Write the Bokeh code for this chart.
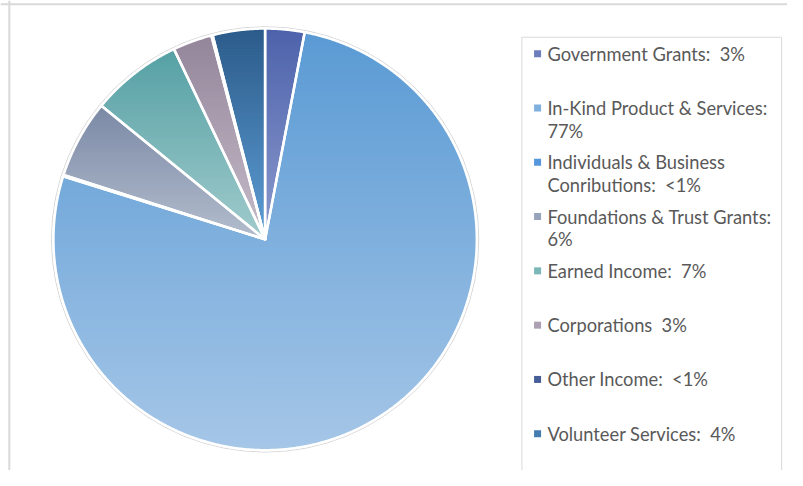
from bokeh.plotting import figure
from bokeh.models import Range1d, Span
from bokeh.embed import file_html
from bokeh.resources import INLINE
from bokeh.core.properties import value
import numpy as np

# ---- data ----
categories = ["Government Grants", "In-Kind Product & Services",
              "Individuals & Business Conributions", "Foundations & Trust Grants",
              "Earned Income", "Corporations", "Other Income", "Volunteer Services"]
shares = [3, 77, 0.1, 6, 7, 3, 0.1, 4]
labels = ["Government Grants:  3%",
          "In-Kind Product & Services:\n77%",
          "Individuals & Business\nConributions:  <1%",
          "Foundations & Trust Grants:\n6%",
          "Earned Income:  7%",
          "Corporations  3%",
          "Other Income:  <1%",
          "Volunteer Services:  4%"]
top_colors = ["#4D62AB", "#5A9AD4", "#3A84D6", "#7B89A5",
              "#55A0A4", "#93859A", "#2F4A86", "#2B5B8A"]
bottom_colors = ["#8C9ACD", "#A5C6E7", "#72A8E2", "#B3BDCD",
                 "#A1CBCC", "#C6BCC9", "#5B72A9", "#5E9ED5"]

# ---- layout (reference pixel space: 803 x 486, y measured from top) ----
W, H = 787, 470
REF_W, REF_H = 803, 486
cx, cy_top, rx, ry = 270, 247, 216, 218


def ys(y_screen):
    return REF_H - y_screen


cy = ys(cy_top)

p = figure(width=W, height=H, x_range=Range1d(0, REF_W), y_range=Range1d(0, REF_H),
           output_backend="svg", toolbar_location=None, min_border=0,
           x_axis_location=None, y_axis_location=None)
p.grid.visible = False
p.outline_line_color = None
p.background_fill_color = "white"
p.border_fill_color = "white"

# outer chart border (top and left)
p.add_layout(Span(location=ys(4), dimension="width", line_color="#D9D9D9", line_width=2))
p.add_layout(Span(location=9, dimension="height", line_color="#D9D9D9", line_width=2))


def hex2rgb(c):
    c = c.lstrip("#")
    return np.array([int(c[i:i + 2], 16) for i in (0, 2, 4)], dtype=float)


def rgb2hex(v):
    v = np.clip(np.round(v), 0, 255).astype(int)
    return "#%02X%02X%02X" % tuple(v)


def clip_half(pts, yc, keep_above):
    out = []
    n = len(pts)
    for i in range(n):
        P, Q = pts[i], pts[(i + 1) % n]
        inP = P[1] >= yc if keep_above else P[1] <= yc
        inQ = Q[1] >= yc if keep_above else Q[1] <= yc
        if inP:
            out.append(P)
        if inP != inQ:
            t = (yc - P[1]) / (Q[1] - P[1])
            out.append((P[0] + t * (Q[0] - P[0]), yc))
    return out


# pie slices, clockwise from 12 o'clock
vals = np.array(shares, dtype=float)
cum = np.concatenate([[0], np.cumsum(vals / vals.sum())]) * 2 * np.pi
slice_polys = []
for a0, a1 in zip(cum[:-1], cum[1:]):
    n = max(2, int(np.ceil((a1 - a0) / np.radians(0.25))) + 1)
    a = np.linspace(a0, a1, n)
    xs = cx + rx * np.sin(a)
    yv = cy + ry * np.cos(a)
    slice_polys.append([(cx, cy)] + list(zip(xs, yv)))

# outer faint ring
p.ellipse(x=[cx], y=[cy], width=2 * rx + 4, height=2 * ry + 4,
          fill_color=None, line_color="#D6D6D6", line_width=1)

# vertical gradient fill per slice, in thin horizontal bands
band_xs, band_ys, band_cols = [], [], []
band_h, overlap = 3.0, 0.8
for poly, ct, cb in zip(slice_polys, top_colors, bottom_colors):
    yvals = [q[1] for q in poly]
    ytop, ybot = max(yvals), min(yvals)
    c0, c1 = hex2rgb(ct), hex2rgb(cb)
    yhi = ytop
    while yhi > ybot:
        ylo = yhi - band_h
        piece = clip_half(clip_half(poly, yhi, False), ylo - overlap, True)
        if len(piece) >= 3:
            t = (ytop - (yhi - band_h / 2)) / max(ytop - ybot, 1e-6)
            t = min(max(t, 0), 1)
            band_xs.append([q[0] for q in piece])
            band_ys.append([q[1] for q in piece])
            band_cols.append(rgb2hex(c0 + (c1 - c0) * t))
        yhi = ylo
p.patches(xs=band_xs, ys=band_ys, fill_color=band_cols, line_color=None)

# white separators
p.patches(xs=[[q[0] for q in s] for s in slice_polys],
          ys=[[q[1] for q in s] for s in slice_polys],
          fill_color=None, line_color="white", line_width=2.5, line_join="round")

# legend
p.quad(left=[532], right=[797], top=[ys(38)], bottom=[-10], fill_color=None,
       line_color="#D9D9D9", line_width=1)

mid_colors = [rgb2hex((hex2rgb(a) + hex2rgb(b)) / 2) for a, b in zip(top_colors, bottom_colors)]
slot0, step = 55, 56.14
ly = [ys(slot0 + i * step) for i in range(len(labels))]
p.scatter(x=[548] * len(labels), y=ly, marker="square", size=7,
          fill_color=mid_colors, line_color=None)

line1, l2_y, l2_t = [], [], []
for l, y in zip(labels, ly):
    parts = l.replace("  ", "\u00a0 ").split("\n")
    line1.append(parts[0])
    if len(parts) > 1:
        l2_y.append(y - 23.5)
        l2_t.append(parts[1])
txt = dict(text_font=value("Lato"), text_font_size="18.3px", text_color="#595959",
           text_baseline="middle", text_align="left")
p.text(x=[558] * len(line1), y=ly, text=line1, **txt)
p.text(x=[558] * len(l2_t), y=l2_y, text=l2_t, **txt)

open("out.html", "w").write(file_html(p, INLINE))
